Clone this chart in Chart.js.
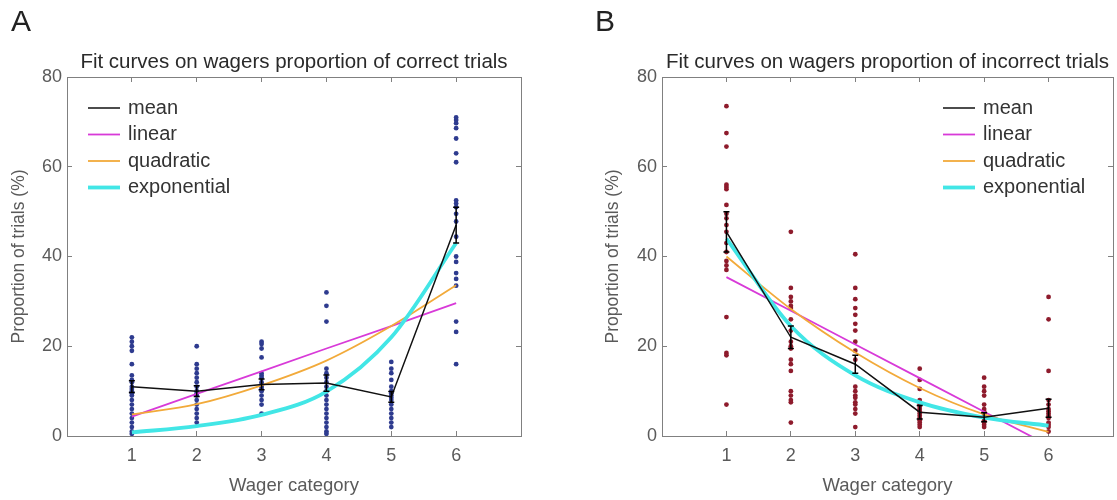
<!DOCTYPE html>
<html>
<head>
<meta charset="utf-8">
<script src="https://cdn.jsdelivr.net/npm/chart.js@4.4.0/dist/chart.umd.min.js"></script>
<style>
  html, body { margin: 0; padding: 0; background: #fff; }
  #wrap { position: relative; width: 1117px; height: 500px; font-family: "Liberation Sans", Arial, sans-serif; }
  .panel { position: absolute; top: 0; height: 500px; }
  #panelA { left: 0; width: 558px; }
  #panelB { left: 558px; width: 559px; }
  .letter { position: absolute; top: 4px; font-size: 30px; color: #222; }
</style>
</head>
<body>
<div id="wrap">
  <div class="panel" id="panelA"><canvas id="chartA" width="558" height="500"></canvas></div>
  <div class="panel" id="panelB"><canvas id="chartB" width="559" height="500"></canvas></div>
  <div class="letter" style="left:11px">A</div>
  <div class="letter" style="left:595px">B</div>
</div>
<script>
const categories = [1, 2, 3, 4, 5, 6];
const yTicks = [0, 20, 40, 60, 80];

// Panel A - correct trials (one list of subject values per wager category)
const correctDots = [
    [22, 21, 20, 19, 16, 13.5, 12.5, 12, 11, 10.5, 10, 9.5, 9, 8, 7, 6, 5, 4, 3, 2, 1, 0.5],
    [20, 16, 15, 14, 13, 12, 11, 10, 9.5, 9, 8, 7, 6, 5, 4, 3],
    [21, 20.5, 19.5, 17.5, 14, 13.5, 13, 12, 11.5, 11, 10.5, 10, 9, 8, 7, 5],
    [32, 29, 25.5, 15, 14, 13, 12, 11, 10, 9, 8, 7, 6, 5, 4, 3, 2, 1, 0.5],
    [16.5, 15, 14, 12.5, 11, 10, 9.5, 9, 8.5, 8, 7, 6, 5, 4, 3, 2],
    [71, 70.4, 69.7, 68.6, 66.3, 63, 61, 52.5, 51.8, 51, 49.5, 47.8, 44.4, 40, 38.8, 36.3, 35, 33.5, 25.5, 23.2, 16]
];
const correctMean = [11, 10, 11.5, 11.8, 8.7, 47];
const correctErr = [1.3, 1.2, 1.2, 1.8, 1.2, 4];
const correctLinear = [4.3, 9.4, 14.4, 19.5, 24.5, 29.6];
const correctQuadratic = [4.8, 7.1, 11.3, 16.8, 24.5, 33.6];
const correctExponential = [0.8, 2.2, 4.7, 9.9, 22, 43];

// Panel B - incorrect trials
const incorrectDots = [
    [73.5, 67.5, 64.5, 56, 55.5, 55, 51.5, 49.5, 48.5, 47, 45.5, 43, 41, 39, 38, 37, 26.5, 18.5, 18, 7],
    [45.5, 33, 31, 30, 29, 28.5, 26, 23.5, 21, 20, 19.5, 17, 16, 14.5, 10, 9, 8, 7.5, 3],
    [40.5, 33, 30.5, 28.5, 27, 25, 23.5, 21, 19, 17, 11, 10, 9, 8.5, 7.5, 7, 6, 5, 2],
    [15, 12.5, 10.5, 8, 7, 6.5, 6, 5.5, 5, 4.5, 4, 3.5, 3, 2.5, 2],
    [13, 11, 10, 9, 7, 6, 5.5, 5, 4.5, 4, 3.5, 3, 2.5, 2],
    [31, 26, 14.5, 8, 7, 6, 5.5, 5, 4.5, 4, 3, 2.5, 2, 1]
];
const incorrectMean = [45.5, 22, 16, 5.3, 4.2, 6.2];
const incorrectErr = [4.5, 2.5, 2, 1.5, 1, 2];
const incorrectLinear = [35.4, 27.9, 20.4, 12.9, 5.4, -2.1];
const incorrectQuadratic = [40, 28.3, 18.6, 10.7, 4.8, 0.9];
const incorrectExponential = [44, 24.5, 13.5, 7.5, 4.1, 2.3];

const FONT = '"Liberation Sans", Arial, sans-serif';
const axisColor = '#808080';
const textColor = '#5a5a5a';

const toPoints = vals => vals.map((v, i) => ({ x: categories[i], y: v }));

// legend drawn inside the plot box, like the original figure
const insideLegend = {
    id: 'insideLegend',
    afterDatasetsDraw(chart, args, opts) {
        const { ctx, chartArea } = chart;
        ctx.save();
        ctx.font = '20px ' + FONT;
        ctx.textBaseline = 'middle';
        let y = chartArea.top + opts.top;
        const x0 = chartArea.left + opts.left;
        chart.data.datasets.forEach(ds => {
            if (!ds.inLegend) return;
            ctx.strokeStyle = ds.borderColor;
            ctx.lineWidth = ds.borderWidth;
            ctx.beginPath();
            ctx.moveTo(x0, y);
            ctx.lineTo(x0 + 32, y);
            ctx.stroke();
            ctx.fillStyle = '#333';
            ctx.fillText(ds.label, x0 + 40, y);
            y += 26.5;
        });
        ctx.restore();
    }
};

// vertical error bars on the mean line
const errorBars = {
    id: 'errorBars',
    afterDatasetsDraw(chart) {
        const { ctx, scales: { x, y } } = chart;
        chart.data.datasets.forEach(ds => {
            if (!ds.errors) return;
            ctx.save();
            ctx.strokeStyle = '#000';
            ctx.lineWidth = 1.5;
            ds.data.forEach((p, i) => {
                const px = x.getPixelForValue(p.x);
                const top = y.getPixelForValue(p.y + ds.errors[i]);
                const bot = y.getPixelForValue(p.y - ds.errors[i]);
                ctx.beginPath();
                ctx.moveTo(px, top); ctx.lineTo(px, bot);
                ctx.moveTo(px - 3, top); ctx.lineTo(px + 3, top);
                ctx.moveTo(px - 3, bot); ctx.lineTo(px + 3, bot);
                ctx.stroke();
            });
            ctx.restore();
        });
    }
};

const makeChart = (id, cfg) => {
    const dots = [];
    cfg.dots.forEach((list, i) => list.forEach(v => dots.push({ x: categories[i], y: v })));

    const xTicks = s => { s.ticks = categories.map(v => ({ value: v })); };
    const yTickSet = s => { s.ticks = yTicks.map(v => ({ value: v })); };

    return new Chart(document.getElementById(id), {
        type: 'line',
        data: {
            datasets: [
                {
                    label: 'mean', data: toPoints(cfg.mean), errors: cfg.err, inLegend: true,
                    borderColor: '#111', borderWidth: 1.5, pointRadius: 0, order: 1
                },
                {
                    label: 'linear', data: toPoints(cfg.linear), inLegend: true,
                    borderColor: '#d83ad8', borderWidth: 1.8, pointRadius: 0, order: 4
                },
                {
                    label: 'quadratic', data: toPoints(cfg.quadratic), inLegend: true,
                    borderColor: '#f2aa3a', borderWidth: 1.8, pointRadius: 0,
                    cubicInterpolationMode: 'monotone', order: 3
                },
                {
                    label: 'exponential', data: toPoints(cfg.exponential), inLegend: true,
                    borderColor: '#42e6e6', borderWidth: 3.8, pointRadius: 0,
                    cubicInterpolationMode: 'monotone', order: 2
                },
                {
                    label: 'subjects', data: dots, showLine: false,
                    pointRadius: 2.4, pointBorderWidth: 0,
                    pointBackgroundColor: cfg.dotColor, order: 5
                }
            ]
        },
        options: {
            responsive: false,
            animation: false,
            devicePixelRatio: 1,
            layout: { padding: cfg.padding },
            scales: {
                x: {
                    type: 'linear', position: 'bottom', min: 0, max: 7,
                    afterBuildTicks: xTicks,
                    afterFit: s => { s.height = 64; },
                    grid: { drawOnChartArea: false, tickLength: -5, color: axisColor },
                    border: { color: axisColor },
                    ticks: { color: textColor, font: { family: FONT, size: 18 }, padding: 14 },
                    title: {
                        display: true, text: 'Wager category', color: textColor,
                        font: { family: FONT, size: 18.5 }, padding: { top: 0, bottom: 3 }
                    }
                },
                x2: {
                    type: 'linear', position: 'top', min: 0, max: 7,
                    afterBuildTicks: xTicks,
                    afterFit: s => { s.height = 0; },
                    grid: { drawOnChartArea: false, tickLength: -5, color: axisColor },
                    border: { color: axisColor },
                    ticks: { display: false }
                },
                y: {
                    type: 'linear', position: 'left', min: 0, max: 80,
                    afterBuildTicks: yTickSet,
                    afterFit: s => { s.width = cfg.yWidth; },
                    grid: { drawOnChartArea: false, tickLength: -5, color: axisColor },
                    border: { color: axisColor },
                    ticks: { color: textColor, font: { family: FONT, size: 18 }, padding: 10 },
                    title: {
                        display: true, text: 'Proportion of trials (%)', color: textColor,
                        font: { family: FONT, size: 17.5 }, padding: { top: 8.5, bottom: 4 }
                    }
                },
                y2: {
                    type: 'linear', position: 'right', min: 0, max: 80,
                    afterBuildTicks: yTickSet,
                    afterFit: s => { s.width = 0; },
                    grid: { drawOnChartArea: false, tickLength: -5, color: axisColor },
                    border: { color: axisColor },
                    ticks: { display: false }
                }
            },
            plugins: {
                legend: { display: false },
                tooltip: { enabled: false },
                title: {
                    display: true, text: cfg.title, fullSize: false, color: '#2a2a2a',
                    font: { family: FONT, size: 20.5, weight: 'normal' },
                    padding: { top: 50, bottom: 2.4 }
                },
                insideLegend: cfg.legend
            }
        },
        plugins: [insideLegend, errorBars]
    });
};

makeChart('chartA', {
    title: 'Fit curves on wagers proportion of correct trials',
    dots: correctDots, mean: correctMean, err: correctErr,
    linear: correctLinear, quadratic: correctQuadratic, exponential: correctExponential,
    dotColor: '#2e3b8f',
    padding: { left: 0, right: 37, top: 0, bottom: 0 },
    yWidth: 67,
    legend: { left: 21, top: 31 }
});

makeChart('chartB', {
    title: 'Fit curves on wagers proportion of incorrect trials',
    dots: incorrectDots, mean: incorrectMean, err: incorrectErr,
    linear: incorrectLinear, quadratic: incorrectQuadratic, exponential: incorrectExponential,
    dotColor: '#8e1b2c',
    padding: { left: 36, right: 3, top: 0, bottom: 0 },
    yWidth: 68,
    legend: { left: 281, top: 31 }
});
</script>
</body>
</html>
